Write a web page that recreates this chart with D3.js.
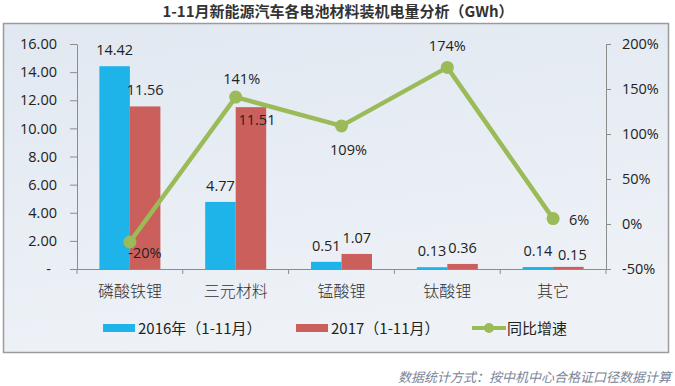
<!doctype html>
<html lang="zh">
    <head>
        <meta charset="utf-8">
        <title>1-11月新能源汽车各电池材料装机电量分析</title>
        <style>
            body { margin: 0; background: #fff; }
            svg { display: block; }
            text { font-family: "Open Sans", "Noto Sans CJK SC", sans-serif; fill: #222; }
            .cjk { font-family: "Noto Sans CJK SC", sans-serif; }
            .axis path, .axis line { stroke: #8c8c8c; }
        </style>
    </head>
    <body>
        <div id="chart"></div>

        <script src="https://d3js.org/d3.v7.min.js"></script>
        <script>
            // data
            var categories = ["磷酸铁锂", "三元材料", "锰酸锂", "钛酸锂", "其它"];
            var values2016 = [14.42, 4.77, 0.51, 0.13, 0.14];
            var values2017 = [11.56, 11.51, 1.07, 0.36, 0.15];
            var growth = [-20, 141, 109, 174, 6];
            var leftTicks = [0, 2, 4, 6, 8, 10, 12, 14, 16];
            var rightTicks = [-50, 0, 50, 100, 150, 200];
            var seriesNames = ["2016年（1-11月）", "2017（1-11月）", "同比增速"];

            var W = 675, H = 386;
            var m = { left: 77, right: 606, top: 44, bottom: 269 };

            var svg = d3.select("#chart").append("svg")
                .attr("width", W)
                .attr("height", H);

            var defs = svg.append("defs");
            var grad = defs.append("linearGradient").attr("id", "bg")
                .attr("x1", 0).attr("y1", 0).attr("x2", 0.3).attr("y2", 1);
            grad.append("stop").attr("offset", 0).attr("stop-color", "#e1e8f1");
            grad.append("stop").attr("offset", 1).attr("stop-color", "#eef2f7");

            // title
            svg.append("text")
                .attr("class", "cjk")
                .attr("x", 338).attr("y", 17)
                .attr("text-anchor", "middle")
                .style("font-size", "15px")
                .style("font-weight", "bold")
                .style("fill", "#333")
                .text("1-11月新能源汽车各电池材料装机电量分析（GWh）");

            // chart box
            svg.append("rect")
                .attr("x", 3.5).attr("y", 23.5)
                .attr("width", 665).attr("height", 329)
                .attr("fill", "url(#bg)")
                .attr("stroke", "#9b9b9b")
                .attr("stroke-width", 1.5);

            var x = d3.scaleBand().domain(categories).range([m.left, m.right]);
            var bw = 30.5;
            var y = d3.scaleLinear().domain([0, 16]).range([m.bottom, m.top]);
            var y2 = d3.scaleLinear().domain([-50, 200]).range([m.bottom, m.top]);

            // axes
            var yAxis = svg.append("g").attr("class", "axis")
                .attr("transform", "translate(" + m.left + ",0)")
                .call(d3.axisLeft(y).tickValues(leftTicks).tickSize(7).tickSizeOuter(0).tickPadding(13)
                    .tickFormat(function(d) { return d === 0 ? "-" : d.toFixed(2); }));
            yAxis.selectAll("text").style("font-size", "14.5px").style("fill", "#222")
                .filter(function(d) { return d === 0; }).attr("dx", -6);

            var y2Axis = svg.append("g").attr("class", "axis")
                .attr("transform", "translate(" + m.right + ",0)")
                .call(d3.axisRight(y2).tickValues(rightTicks).tickSize(5).tickSizeOuter(0).tickPadding(11)
                    .tickFormat(function(d) { return d + "%"; }));
            y2Axis.selectAll("text").style("font-size", "14.5px").style("fill", "#222");

            var xAxis = svg.append("g").attr("class", "axis")
                .attr("transform", "translate(0," + m.bottom + ")")
                .call(d3.axisBottom(x).tickSize(0).tickSizeOuter(0).tickPadding(17));
            xAxis.selectAll("text").attr("class", "cjk")
                .style("font-size", "16px").style("font-weight", 300).style("fill", "#333");
            // category dividers below the axis
            xAxis.selectAll(".div")
                .data(d3.range(categories.length + 1))
                .enter().append("line")
                .attr("x1", function(i) { return m.left + i * x.bandwidth(); })
                .attr("x2", function(i) { return m.left + i * x.bandwidth(); })
                .attr("y1", 0).attr("y2", 5);

            // bars
            var cx = function(c) { return x(c) + x.bandwidth() / 2; };
            var bars = [
                { vals: values2016, color: "#1eb4ea", off: -bw },
                { vals: values2017, color: "#cb5f5b", off: 0 }
            ];
            bars.forEach(function(s) {
                svg.append("g").selectAll("rect")
                    .data(categories)
                    .enter().append("rect")
                    .attr("x", function(c) { return cx(c) + s.off; })
                    .attr("y", function(c, i) { return y(s.vals[i]); })
                    .attr("width", bw)
                    .attr("height", function(c, i) { return m.bottom - y(s.vals[i]); })
                    .attr("fill", s.color);
            });

            // bar labels: sit above the bar, a couple are nudged like the original
            var labelNudge = { "1-1": [6, 29], "1-4": [4, 4] };
            bars.forEach(function(s, si) {
                svg.append("g").selectAll("text")
                    .data(categories)
                    .enter().append("text")
                    .attr("text-anchor", "middle")
                    .attr("x", function(c, i) {
                        var n = labelNudge[si + "-" + i] || [0, 0];
                        return cx(c) + s.off + bw / 2 + n[0];
                    })
                    .attr("y", function(c, i) {
                        var n = labelNudge[si + "-" + i] || [0, 0];
                        return y(s.vals[i]) - 11 + n[1];
                    })
                    .style("font-size", "14.5px")
                    .text(function(c, i) { return s.vals[i].toFixed(2); });
            });

            // growth line
            var line = d3.line()
                .x(function(d, i) { return cx(categories[i]); })
                .y(function(d) { return y2(d); });
            svg.append("path")
                .datum(growth)
                .attr("d", line)
                .attr("fill", "none")
                .attr("stroke", "#9bbb59")
                .attr("stroke-width", 4.5)
                .attr("stroke-linejoin", "round");
            svg.append("g").selectAll("circle")
                .data(growth)
                .enter().append("circle")
                .attr("cx", function(d, i) { return cx(categories[i]); })
                .attr("cy", function(d) { return y2(d); })
                .attr("r", 6.5)
                .attr("fill", "#9bbb59");

            var lineLabelPos = [[15, 16], [6, -13], [7, 29], [0, -16], [26, 6]];
            svg.append("g").selectAll("text")
                .data(growth)
                .enter().append("text")
                .attr("text-anchor", "middle")
                .attr("x", function(d, i) { return cx(categories[i]) + lineLabelPos[i][0]; })
                .attr("y", function(d, i) { return y2(d) + lineLabelPos[i][1]; })
                .style("font-size", "14.5px")
                .text(function(d) { return d + "%"; });

            // legend
            var lg = svg.append("g").attr("transform", "translate(0,328)");
            lg.append("rect").attr("x", 103).attr("y", -4).attr("width", 32).attr("height", 8).attr("fill", "#1eb4ea");
            lg.append("rect").attr("x", 296).attr("y", -4).attr("width", 32).attr("height", 8).attr("fill", "#cb5f5b");
            lg.append("line").attr("x1", 472).attr("x2", 506).attr("y1", 0).attr("y2", 0)
                .attr("stroke", "#9bbb59").attr("stroke-width", 4);
            lg.append("circle").attr("cx", 489).attr("cy", 0).attr("r", 5).attr("fill", "#9bbb59");
            lg.selectAll("text.lg")
                .data(seriesNames)
                .enter().append("text")
                .attr("class", "cjk")
                .attr("x", function(d, i) { return [138, 331, 507][i]; })
                .attr("y", 5.5)
                .style("font-size", "15px")
                .style("fill", "#222")
                .text(function(d) { return d; });

            // source note
            svg.append("text")
                .attr("class", "cjk")
                .attr("x", 671).attr("y", 382)
                .attr("text-anchor", "end")
                .style("font-size", "13px")
                .style("font-style", "italic")
                .style("fill", "#7a8497")
                .text("数据统计方式：按中机中心合格证口径数据计算");
        </script>
    </body>
</html>
